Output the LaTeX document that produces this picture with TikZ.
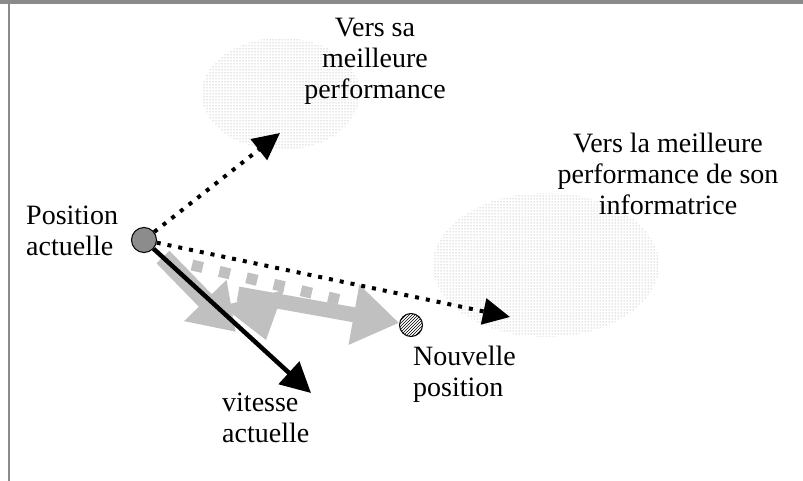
\documentclass[tikz,border=0pt]{standalone}
\usepackage{fontspec}
\setmainfont{Liberation Serif}
\usetikzlibrary{arrows.meta,patterns,shapes.geometric}
\definecolor{armgray}{HTML}{C0C0C0}
\definecolor{dotgray}{HTML}{949494}
\definecolor{ptgray}{HTML}{8C8C8C}
\definecolor{framegray}{HTML}{8A8A8A}
\begin{document}
\begin{tikzpicture}[x=1pt,y=-1pt,
  lbl/.style={font=\fontsize{28}{31}\selectfont, inner sep=0pt},
  cloudshape/.style={ellipse, pattern=dots, pattern color=dotgray, inner sep=0pt},
  dotarrow/.style={line width=4pt, dash pattern=on 4pt off 7pt, -{Triangle[length=27pt,width=26pt]}},
  velarrow/.style={line width=4.5pt, -{Triangle[length=30pt,width=30pt]}},
  posdot/.style={circle, draw=black, line width=1pt, inner sep=0pt}
]
\useasboundingbox (0,0) rectangle (803,481);
% frame
\draw[framegray, line width=2pt] (8.5,481) -- (8.5,3);
\draw[framegray, line width=4pt] (0,2) -- (803,2);
% clouds
\node[cloudshape, minimum width=158pt, minimum height=112pt] (cloud1) at (281,94) {};
\node[cloudshape, minimum width=226pt, minimum height=144pt] (cloud2) at (546,265) {};
% positions
\node[posdot, fill=ptgray, minimum size=25pt] (pa) at (144,240) {};
\node[posdot, pattern=north east lines, minimum size=23pt] (np) at (411,325) {};
% gray composition arrows
\coordinate (aS) at (163,257);
\coordinate (aE) at (236,332);
\draw[armgray, line width=18pt, -{Triangle[length=44pt,width=56pt]}] (aS) -- (aE);
\fill[armgray] (222,306) -- (284,290) -- (266,340) -- cycle;
\coordinate (cS) at (238,294);
\draw[armgray, line width=15pt, -{Triangle[length=46pt,width=58pt]}] (cS) -- (np);
\coordinate (sqS) at (192,265);
\coordinate (sqE) at (345,301);
\draw[armgray, line width=11pt, dash pattern=on 11pt off 17pt] (sqS) -- (sqE);
% velocity
\coordinate (vE) at (311,393);
\draw[velarrow] (pa) -- (vE);
% dotted arrows
\coordinate (b1) at (280,133);
\coordinate (b2) at (510,317);
\draw[dotarrow] (pa) -- (b1);
\draw[dotarrow] (pa) -- (b2);
% labels
\node[lbl, anchor=north west, align=left] (lpa) at (26,206) {Position\\actuelle};
\node[lbl, anchor=north, align=center] (lb1) at (375,18) {Vers sa\\meilleure\\performance};
\node[lbl, anchor=north, align=center] (lb2) at (668,133) {Vers la meilleure\\performance de son\\informatrice};
\node[lbl, anchor=north west, align=left] (lnp) at (413,346) {Nouvelle\\position};
\node[lbl, anchor=north west, align=left] (lv) at (222,393) {vitesse\\actuelle};
\end{tikzpicture}
\end{document}
